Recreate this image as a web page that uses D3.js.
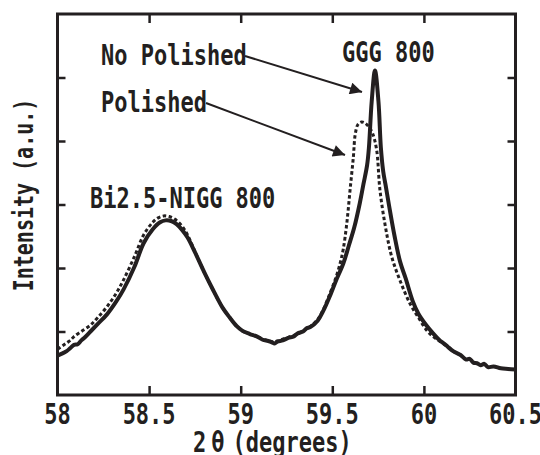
<!DOCTYPE html>
<html>
<head>
<meta charset="utf-8">
<script src="https://d3js.org/d3.v7.min.js"></script>
<style>
  body { margin: 0; background: #fff; }
  svg text { font-family: "DejaVu Sans Mono", monospace; font-weight: bold; fill: #231f20; }
</style>
</head>
<body>
<svg width="540" height="455"></svg>
<script>
// 2theta (deg), intensity (a.u.)
var noPolished = [
  [58.00, 0.62], [58.03, 0.66], [58.05, 0.69], [58.07, 0.74], [58.09, 0.79], [58.11, 0.80],
  [58.13, 0.86], [58.15, 0.91], [58.18, 1.00], [58.22, 1.12], [58.27, 1.27], [58.32, 1.47],
  [58.36, 1.66], [58.42, 2.02], [58.47, 2.39], [58.52, 2.61], [58.56, 2.72], [58.59, 2.75],
  [58.62, 2.74], [58.65, 2.69], [58.68, 2.60], [58.71, 2.48], [58.75, 2.25], [58.80, 1.94],
  [58.85, 1.65], [58.90, 1.38], [58.94, 1.22], [58.98, 1.08], [59.01, 1.01], [59.05, 0.96],
  [59.09, 0.92], [59.12, 0.87], [59.15, 0.85], [59.17, 0.83], [59.185, 0.81], [59.20, 0.84],
  [59.23, 0.86], [59.26, 0.90], [59.29, 0.92], [59.31, 0.97], [59.34, 1.00], [59.36, 1.05],
  [59.38, 1.07], [59.42, 1.17], [59.45, 1.32], [59.49, 1.58], [59.52, 1.80], [59.56, 2.07],
  [59.59, 2.35], [59.62, 2.64], [59.65, 3.02], [59.67, 3.32], [59.69, 3.62], [59.70, 3.90],
  [59.715, 4.62], [59.733, 5.11], [59.752, 4.62], [59.765, 3.90], [59.778, 3.52], [59.79, 3.32],
  [59.81, 2.98], [59.84, 2.50], [59.87, 2.10], [59.90, 1.84], [59.94, 1.47], [59.97, 1.28],
  [60.01, 1.11], [60.05, 0.97], [60.09, 0.85], [60.11, 0.81], [60.13, 0.76], [60.16, 0.69],
  [60.20, 0.63], [60.23, 0.56], [60.25, 0.57], [60.27, 0.51], [60.29, 0.50], [60.31, 0.47],
  [60.33, 0.49], [60.35, 0.44], [60.38, 0.45], [60.42, 0.42], [60.46, 0.41], [60.50, 0.40]
];
var polished = [
  [58.00, 0.72], [58.03, 0.78], [58.05, 0.82], [58.07, 0.86], [58.09, 0.92], [58.13, 1.00],
  [58.18, 1.10], [58.22, 1.22], [58.27, 1.39], [58.32, 1.60], [58.36, 1.81], [58.42, 2.18],
  [58.47, 2.52], [58.52, 2.72], [58.55, 2.79], [58.58, 2.82], [58.61, 2.81], [58.64, 2.77],
  [58.68, 2.66], [58.71, 2.52], [58.75, 2.26], [58.80, 1.94], [58.85, 1.65], [58.90, 1.38],
  [58.94, 1.22], [58.98, 1.08], [59.01, 1.01], [59.05, 0.96], [59.09, 0.92], [59.13, 0.87],
  [59.17, 0.84], [59.20, 0.85], [59.25, 0.90], [59.30, 0.95], [59.34, 1.01], [59.38, 1.08],
  [59.42, 1.19], [59.45, 1.34], [59.49, 1.62], [59.52, 1.85], [59.545, 2.10], [59.56, 2.30],
  [59.579, 2.70], [59.597, 3.23], [59.615, 3.75], [59.625, 4.10], [59.64, 4.26], [59.66, 4.30],
  [59.68, 4.28], [59.70, 4.22], [59.72, 4.12], [59.742, 3.86], [59.76, 3.23], [59.79, 2.65],
  [59.824, 2.18], [59.87, 1.80], [59.924, 1.44], [59.97, 1.22], [60.015, 1.02], [60.05, 0.92],
  [60.09, 0.84], [60.13, 0.76], [60.16, 0.69], [60.20, 0.63]
];
var xTicks = [58, 58.5, 59, 59.5, 60, 60.5];
var xTickLabels = ['58', '58.5', '59', '59.5', '60', '60.5'];
var yTicks = [1, 2, 3, 4, 5];

var ink = '#231f20';
var plotL = 57.5, plotR = 515.5, plotT = 14, plotB = 395;

var x = d3.scaleLinear().domain([58, 60.5]).range([plotL, plotR]);
var y = d3.scaleLinear().domain([0, 6]).range([plotB, plotT]);

var svg = d3.select('svg');

// inward ticks on all four sides
function ticks(axis, tx, ty) {
  var g = svg.append('g').attr('transform', 'translate(' + tx + ',' + ty + ')').call(axis);
  g.select('.domain').remove();
  g.selectAll('text').remove();
  g.selectAll('line').attr('stroke', ink).attr('stroke-width', 2.5);
}
var inner = xTicks.slice(1, -1);
ticks(d3.axisBottom(x).tickValues(inner).tickSizeInner(-9).tickSizeOuter(0), 0, plotB);
ticks(d3.axisTop(x).tickValues(inner).tickSizeInner(-9).tickSizeOuter(0), 0, plotT);
ticks(d3.axisLeft(y).tickValues(yTicks).tickSizeInner(-8).tickSizeOuter(0), plotL, 0);
ticks(d3.axisRight(y).tickValues(yTicks).tickSizeInner(-8).tickSizeOuter(0), plotR, 0);

var line = d3.line()
  .x(d => x(d[0]))
  .y(d => y(d[1]))
  .curve(d3.curveCatmullRom.alpha(0.5));

svg.append('path')
  .datum(polished)
  .attr('d', line)
  .attr('fill', 'none')
  .attr('stroke', ink)
  .attr('stroke-width', 3)
  .attr('stroke-dasharray', '3.5,2.5');

svg.append('path')
  .datum(noPolished)
  .attr('d', line)
  .attr('fill', 'none')
  .attr('stroke', ink)
  .attr('stroke-width', 4)
  .attr('stroke-linejoin', 'round');

// frame
svg.append('rect')
  .attr('x', plotL).attr('y', plotT)
  .attr('width', plotR - plotL).attr('height', plotB - plotT)
  .attr('fill', 'none').attr('stroke', ink).attr('stroke-width', 3);

// tall narrow lettering
function label(str, tx, ty, anchor, rot) {
  return svg.append('text')
    .attr('transform', 'translate(' + tx + ',' + ty + ')' + (rot ? ' rotate(' + rot + ')' : '') + ' scale(1,1.3)')
    .attr('text-anchor', anchor || 'start')
    .style('font-size', '22px')
    .text(str);
}

xTicks.forEach((d, i) => label(xTickLabels[i], x(d), 424, 'middle'));

var xt = label('2', 193, 452);
xt.append('tspan').attr('dx', 5).text('θ');
xt.append('tspan').attr('dx', 8).text('(degrees)');

label('Intensity (a.u.)', 33, 195, 'middle', -90).style('font-size', '20px');

label('No Polished', 101, 65);
label('Polished', 101, 112);
label('GGG 800', 342, 62);
label('Bi2.5-NIGG 800', 90, 208);

// arrows
svg.append('defs').append('marker')
  .attr('id', 'head')
  .attr('viewBox', '0 0 10 10')
  .attr('refX', 10).attr('refY', 5)
  .attr('markerWidth', 16).attr('markerHeight', 12)
  .attr('markerUnits', 'userSpaceOnUse')
  .attr('orient', 'auto')
  .append('path').attr('d', 'M0,0L10,5L0,10z').attr('fill', ink);

[[[245, 56], [362, 92]], [[206, 103], [345, 155]]].forEach(a => {
  svg.append('line')
    .attr('x1', a[0][0]).attr('y1', a[0][1])
    .attr('x2', a[1][0]).attr('y2', a[1][1])
    .attr('stroke', ink).attr('stroke-width', 2)
    .attr('marker-end', 'url(#head)');
});
</script>
</body>
</html>
